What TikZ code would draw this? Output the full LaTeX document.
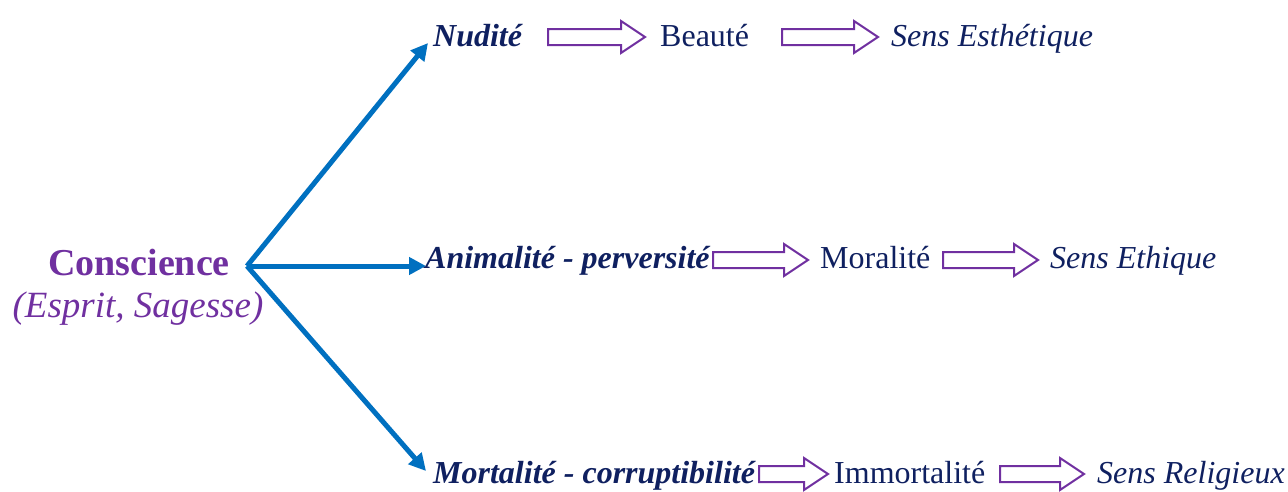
\documentclass[tikz,border=0pt]{standalone}
\usepackage{fontspec}
\setmainfont{Liberation Serif}
\usetikzlibrary{arrows.meta,calc}
\definecolor{navy}{HTML}{0F2060}
\definecolor{purp}{HTML}{7030A0}
\definecolor{blu}{HTML}{0070C0}
\newcommand\hollowarrow[2]{\draw[harr] ($(#1)+(0,-8)$) -- ($(#2)+(-24,-8)$) -- ($(#2)+(-24,-16)$) -- (#2) -- ($(#2)+(-24,16)$) -- ($(#2)+(-24,8)$) -- ($(#1)+(0,8)$) -- cycle;}
\begin{document}
\begin{tikzpicture}[x=1pt,y=-1pt,
  txt/.style={anchor=base west,inner sep=0pt,text=navy,font=\fontsize{32}{38}\selectfont},
  harr/.style={draw=purp,line width=2pt,fill=white,line join=miter},
  barr/.style={draw=blu,line width=5pt,-{Triangle[length=17pt,width=17pt]}}]
\useasboundingbox (0,0) rectangle (1288,491);
% left
\node[anchor=base,inner sep=0pt,text=purp,font=\fontsize{38}{44}\selectfont\bfseries] (consc) at (139,275) {Conscience};
\node[anchor=base,inner sep=0pt,text=purp,font=\fontsize{37}{44}\selectfont\itshape] (esprit) at (138,317) {(Esprit, Sagesse)};
\coordinate (o) at (247,266);
\coordinate (t1) at (428,43);
\coordinate (t2) at (426,266);
\coordinate (t3) at (426,471);
\draw[barr] (o) -- (t1);
\draw[barr] (o) -- (t2);
\draw[barr] (o) -- (t3);
% row 1
\node[txt,font=\fontsize{32}{38}\selectfont\bfseries\itshape] (nud) at (433,46) {Nudité};
\node[txt] (beaute) at (660,46) {Beauté};
\node[txt,font=\fontsize{32}{38}\selectfont\itshape] (esth) at (891,46) {Sens Esthétique};
\coordinate (a1s) at (548,37); \coordinate (a1e) at (645,37);
\coordinate (a2s) at (782,37); \coordinate (a2e) at (878,37);
\hollowarrow{a1s}{a1e}
\hollowarrow{a2s}{a2e}
% row 2
\node[txt,font=\fontsize{32}{38}\selectfont\bfseries\itshape] (anim) at (425,268) {Animalité - perversité};
\node[txt] (moral) at (820,268) {Moralité};
\node[txt,font=\fontsize{32}{38}\selectfont\itshape] (ethi) at (1050,268) {Sens Ethique};
\coordinate (b1s) at (713,260); \coordinate (b1e) at (808,260);
\coordinate (b2s) at (943,260); \coordinate (b2e) at (1038,260);
\hollowarrow{b1s}{b1e}
\hollowarrow{b2s}{b2e}
% row 3
\node[txt,font=\fontsize{32}{38}\selectfont\bfseries\itshape] (mort) at (433,483) {Mortalité - corruptibilité};
\node[txt] (immort) at (834,483) {Immortalité};
\node[txt,font=\fontsize{32}{38}\selectfont\itshape] (relig) at (1097,483) {Sens Religieux};
\coordinate (c1s) at (759,474); \coordinate (c1e) at (828,474);
\coordinate (c2s) at (1000,474); \coordinate (c2e) at (1084,474);
\hollowarrow{c1s}{c1e}
\hollowarrow{c2s}{c2e}
\end{tikzpicture}
\end{document}
